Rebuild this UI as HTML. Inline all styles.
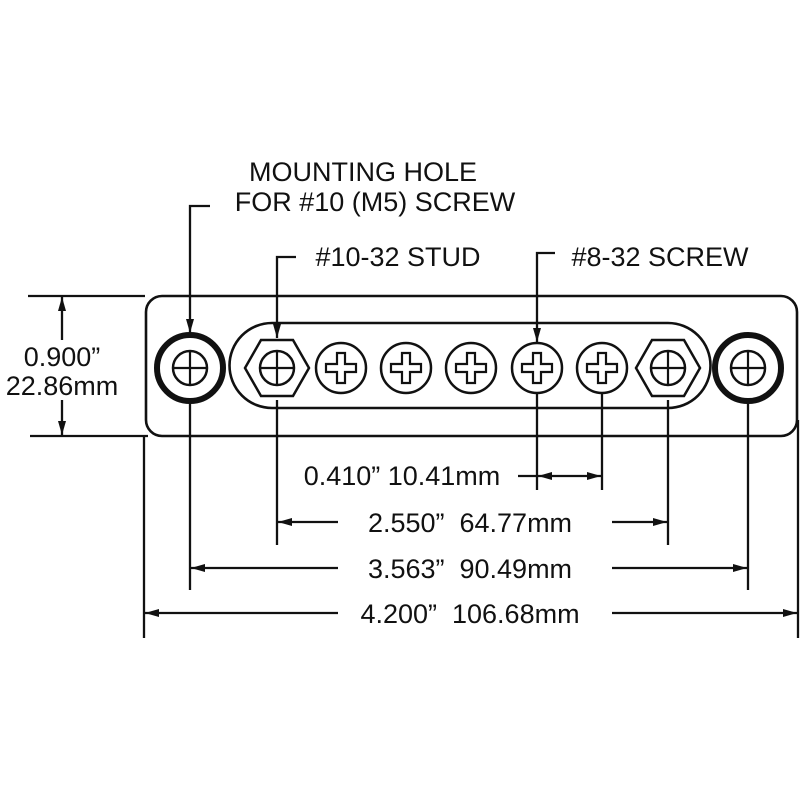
<!DOCTYPE html>
<html><head><style>
html,body{margin:0;padding:0;background:#fff}
svg{display:block}
text{font-family:"Liberation Sans",Arial,sans-serif;fill:#111;white-space:pre}
</style></head><body>
<svg width="800" height="800" viewBox="0 0 800 800" xmlns="http://www.w3.org/2000/svg">
<defs>
<marker id="a" viewBox="0 0 14 8" refX="14" refY="4" markerWidth="14" markerHeight="8" markerUnits="userSpaceOnUse" orient="auto"><path d="M0,0 L14,4 L0,8 z" fill="#111"/></marker>
<g id="ph"><circle r="25" fill="none" stroke="#111" stroke-width="2.5"/><path d="M-4,-15 h8 v11 h11 v8 h-11 v11 h-8 v-11 h-11 v-8 h11 z" fill="none" stroke="#111" stroke-width="2.2"/></g>
<g id="mh"><circle r="33" fill="none" stroke="#111" stroke-width="6"/><circle r="17" fill="none" stroke="#111" stroke-width="2.5"/><path d="M-17,0 H17 M0,-17 V17" stroke="#111" stroke-width="2.2"/></g>
<g id="hx"><polygon points="-32,0 -16,-28 16,-28 32,0 16,28 -16,28" fill="none" stroke="#111" stroke-width="2.5"/><circle r="17" fill="none" stroke="#111" stroke-width="2.5"/><path d="M-17,0 H17 M0,-17 V17" stroke="#111" stroke-width="2.2"/></g>
</defs>
<g stroke="#111" fill="none" stroke-width="2.6">
<rect x="146" y="296" width="651" height="140" rx="16"/>
<path d="M272,323 H668 A42.5,42.5 0 0 1 668,408 H272 A42.5,42.5 0 0 1 272,323 Z"/>
</g>
<use href="#mh" x="190" y="368"/>
<use href="#mh" x="748" y="368"/>
<use href="#hx" x="277" y="368"/>
<use href="#hx" x="668" y="368"/>
<use href="#ph" x="341" y="368"/>
<use href="#ph" x="406" y="368"/>
<use href="#ph" x="471" y="368"/>
<use href="#ph" x="537" y="368"/>
<use href="#ph" x="602" y="368"/>
<g stroke="#111" stroke-width="2.3" fill="none">
<path d="M210,206 H190 V333" marker-end="url(#a)"/>
<path d="M296,257 H277 V338" marker-end="url(#a)"/>
<path d="M555,253 H537 V342" marker-end="url(#a)"/>
<path d="M28,296 H145 M30,436 H148"/>
<path d="M62,340 V297" marker-end="url(#a)"/>
<path d="M62,400 V435" marker-end="url(#a)"/>
<path d="M190,402 V590 M748,402 V590 M277,400 V545 M668,400 V545 M537,394 V490 M602,394 V490 M144,436 V638 M798,420 V638"/>
<path d="M518,476 H537"/>
<path d="M570,476 H538" marker-end="url(#a)"/>
<path d="M570,476 H601" marker-end="url(#a)"/>
<path d="M338,522 H278" marker-end="url(#a)"/>
<path d="M612,522 H667" marker-end="url(#a)"/>
<path d="M338,568 H191" marker-end="url(#a)"/>
<path d="M612,568 H747" marker-end="url(#a)"/>
<path d="M338,613 H145" marker-end="url(#a)"/>
<path d="M612,613 H797" marker-end="url(#a)"/>
</g>
<g font-size="27">
<text x="363" y="181" text-anchor="middle">MOUNTING HOLE</text>
<text x="375" y="211" text-anchor="middle">FOR #10 (M5) SCREW</text>
<text x="398" y="266" text-anchor="middle">#10-32 STUD</text>
<text x="660" y="266" text-anchor="middle">#8-32 SCREW</text>
<text x="62" y="366" text-anchor="middle">0.900”</text>
<text x="62" y="395" text-anchor="middle">22.86mm</text>
<text x="402" y="485" text-anchor="middle">0.410” 10.41mm</text>
<text x="470" y="532" text-anchor="middle">2.550”  64.77mm</text>
<text x="470" y="578" text-anchor="middle">3.563”  90.49mm</text>
<text x="470" y="623" text-anchor="middle">4.200”  106.68mm</text>
</g>
</svg>
</body></html>
